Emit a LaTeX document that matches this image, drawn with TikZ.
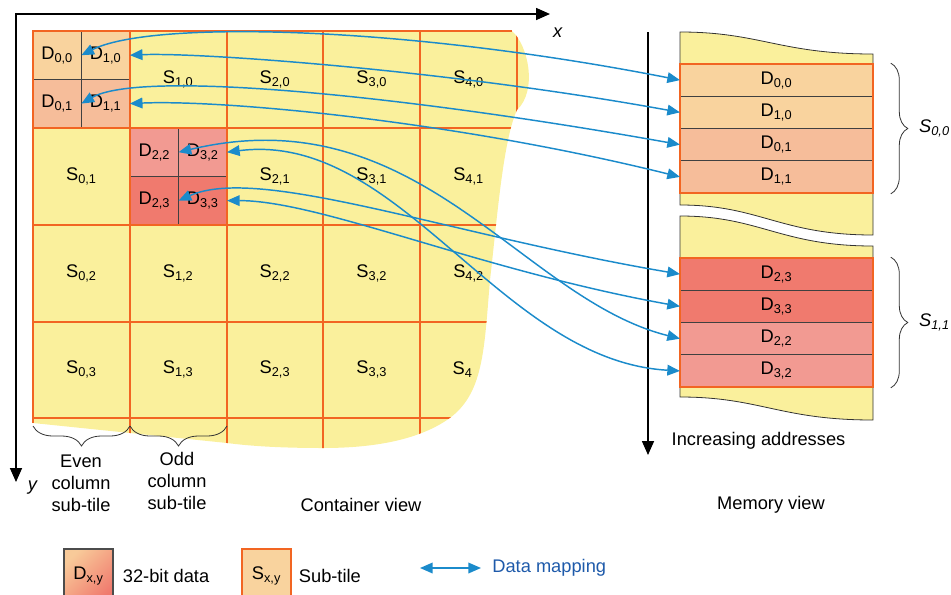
\documentclass[tikz,border=0pt]{standalone}
\usepackage{fontspec}
\setmainfont{Liberation Sans}
\usepackage{tikz}
\usetikzlibrary{arrows.meta, positioning, fit, decorations.pathreplacing}
\definecolor{tilefill}{HTML}{FAF09C}
\definecolor{tileedge}{HTML}{F26522}
\definecolor{dpeach}{HTML}{F9D39E}
\definecolor{dsalmon}{HTML}{F6BD9A}
\definecolor{drose}{HTML}{F29A92}
\definecolor{dcoral}{HTML}{F07A6E}
\definecolor{mapblue}{HTML}{1B8BCB}
\definecolor{mapbluetext}{HTML}{1E5AAA}
\newcommand{\sxy}[2]{#1\textsubscript{#2}}
\newcommand{\blobpath}{(33,31) -- (512,31) .. controls (528,45) and (538,90) .. (517,110)
  .. controls (503,140) and (497,220) .. (490,280) .. controls (484,350) and (484,395) .. (447,420)
  .. controls (420,438) and (380,448) .. (323,448) .. controls (280,448) and (250,446) .. (227,443)
  -- (33,423) -- cycle}

\begin{document}
\begin{tikzpicture}[x=0.75pt, y=-0.75pt,
    font=\fontsize{13.7pt}{16.5pt}\selectfont,
    node distance=0pt,
    dcell/.style={draw=black!75, line width=0.75pt, minimum width=36.3pt, minimum height=36.3pt,
                  inner sep=0pt, outer sep=0pt},
    mcell/.style={draw=black!75, line width=0.7pt, minimum width=144.75pt, minimum height=24.2pt,
                  inner sep=0pt, outer sep=0pt},
    tileline/.style={draw=tileedge, line width=1.4pt},
    mem/.style={fill=tilefill, draw=black!80, line width=0.6pt},
    map/.style={{Triangle[length=9.5pt,width=8pt]}-{Triangle[length=9.5pt,width=8pt]},
                draw=mapblue, line width=1.1pt},
    axisarrow/.style={-{Triangle[length=10.5pt,width=9pt]}, line width=1.2pt},
    axisboth/.style={{Triangle[length=10.5pt,width=9pt]}-{Triangle[length=10.5pt,width=9pt]}, line width=1.2pt},
    brc/.style={decorate, decoration={brace, amplitude=#1}, draw=black!80, line width=0.6pt},
]
    \path[use as bounding box] (0,0) rectangle (951,594);
    \fill[tilefill] \blobpath;

    \node[dcell, fill=dpeach] (d00) at (57.2,55.2) {\sxy{D}{0,0}};
    \node[dcell, fill=dpeach, right=of d00] (d10) {\sxy{D}{1,0}};
    \node[dcell, fill=dsalmon, below=of d00] (d01) {\sxy{D}{0,1}};
    \node[dcell, fill=dsalmon, right=of d01] (d11) {\sxy{D}{1,1}};
    \node[dcell, fill=drose] (d22) at (154.4,152.2) {\sxy{D}{2,2}};
    \node[dcell, fill=drose, right=of d22] (d32) {\sxy{D}{3,2}};
    \node[dcell, fill=dcoral, below=of d22] (d23) {\sxy{D}{2,3}};
    \node[dcell, fill=dcoral, right=of d23] (d33) {\sxy{D}{3,3}};

    \foreach \i/\j in {1/0,2/0,3/0,4/0,0/1,2/1,3/1,4/1,0/2,1/2,2/2,3/2,4/2,0/3,1/3,2/3,3/3}
        \node (s\i\j) at ({81.4+96.8*\i},{79.4+96.8*\j}) {\sxy{S}{\i,\j}};
    \node[anchor=west] (s43) at (448,369.8) {\sxy{S}{4}};

    \begin{scope}
        \clip \blobpath;
        \foreach \gx in {130,227,323,420,517} \draw[tileline] (\gx,31) -- (\gx,460);
        \foreach \gy in {128,225,322,418} \draw[tileline] (33,\gy) -- (540,\gy);
    \end{scope}
    \draw[tileline] (33,423) -- (33,31) -- (512,31);

    \filldraw[mem] (680,64) -- (680,32) .. controls (760,32) and (780,54) .. (873,54) -- (873,64) -- cycle;
    \filldraw[mem] (680,193) -- (680,205) .. controls (760,205) and (780,235) .. (873,235) -- (873,193) -- cycle;
    \filldraw[mem] (680,258) -- (680,216) .. controls (760,216) and (780,246) .. (873,246) -- (873,258) -- cycle;
    \filldraw[mem] (680,386) -- (680,397) .. controls (760,397) and (780,420) .. (873,420) -- (873,386) -- cycle;

    \node[mcell, fill=dpeach] (m00) at (776.5,80.1) {\sxy{D}{0,0}};
    \node[mcell, fill=dpeach, below=of m00] (m10) {\sxy{D}{1,0}};
    \node[mcell, fill=dsalmon, below=of m10] (m01) {\sxy{D}{0,1}};
    \node[mcell, fill=dsalmon, below=of m01] (m11) {\sxy{D}{1,1}};
    \node[draw=tileedge, line width=1.2pt, inner sep=0pt, fit=(m00)(m11)] (memA) {};
    \node[mcell, fill=dcoral] (m23) at (776.5,274.1) {\sxy{D}{2,3}};
    \node[mcell, fill=dcoral, below=of m23] (m33) {\sxy{D}{3,3}};
    \node[mcell, fill=drose, below=of m33] (m22) {\sxy{D}{2,2}};
    \node[mcell, fill=drose, below=of m22] (m32) {\sxy{D}{3,2}};
    \node[draw=tileedge, line width=1.2pt, inner sep=0pt, fit=(m23)(m32)] (memB) {};

    \coordinate (orig) at (16,14);
    \coordinate (xtip) at (550,14);
    \coordinate (ytip) at (16,482);
    \draw[axisboth] (xtip) -- (orig) -- (ytip);
    \node (xlbl) at (558,33) {\textit{x}};
    \node (ylbl) at (33,488) {\textit{y}};
    \coordinate (atop) at (648,32);
    \coordinate (abot) at (648,455);
    \draw[axisarrow] (atop) -- (abot);
    \node[anchor=west] (incr) at (667,441) {Increasing addresses};

    \draw[brc=12.75pt] ([xshift=12.75pt]memA.north east) -- ([xshift=12.75pt]memA.south east);
    \node[anchor=west] (lblA) at ([xshift=30.5pt]memA.east) {\textit{\sxy{S}{0,0}}};
    \draw[brc=12.75pt] ([xshift=12.75pt]memB.north east) -- ([xshift=12.75pt]memB.south east);
    \node[anchor=west] (lblB) at ([xshift=30.5pt]memB.east) {\textit{\sxy{S}{1,1}}};
    \coordinate (b0) at (33,426);
    \coordinate (b1) at (130,426);
    \coordinate (b2) at (227,426);
    \draw[brc=15pt] (b1) -- (b0);
    \draw[brc=15pt] (b2) -- (b1);
    \node[align=center] (even) at (81,483) {Even\\column\\sub-tile};
    \node[align=center] (odd) at (177,481) {Odd\\column\\sub-tile};
    \node (cview) at (361,505) {Container view};
    \node (mview) at (771,505) {Memory view};

    \draw[map] (d00.east) .. controls +(69,-35) and +(-280,-55) .. (m00.west);
    \draw[map] (d10.east) .. controls +(70,-3) and +(-230,-42) .. (m10.west);
    \draw[map] (d01.east) .. controls +(59,-34) and +(-280,-50) .. (m01.west);
    \draw[map] (d11.east) .. controls +(90,-4) and +(-230,-57) .. (m11.west);
    \draw[map] (d22.east) .. controls +(240,-57) and +(-160,-40) .. (m22.west);
    \draw[map] (d32.east) .. controls +(173,-22) and +(-180,-10) .. (m32.west);
    \draw[map] (d23.east) .. controls +(81,-36) and +(-230,-39) .. (m23.west);
    \draw[map] (d33.east) .. controls +(93,0) and +(-200,-36) .. (m33.west);

    \node[draw=black!70, line width=0.8pt, minimum width=36.75pt, minimum height=40.5pt, inner sep=0pt,
          top color=dpeach!90!dcoral, bottom color=dcoral, shading angle=45] (legD) at (88.5,576) {\sxy{D}{x,y}};
    \node[right=3.5pt of legD] (legDtxt) {32-bit data};
    \node[draw=tileedge, line width=0.8pt, fill=dpeach, minimum width=36.75pt, minimum height=40.5pt,
          inner sep=0pt] (legS) at (266.5,576) {\sxy{S}{x,y}};
    \node[right=2pt of legS] (legStxt) {Sub-tile};
    \coordinate (legA) at (420,568);
    \coordinate (legB) at (481,568);
    \draw[map] (legA) -- (legB);
    \node[right=5pt of legB, text=mapbluetext] (legMtxt) {Data mapping};
\end{tikzpicture}
\end{document}
